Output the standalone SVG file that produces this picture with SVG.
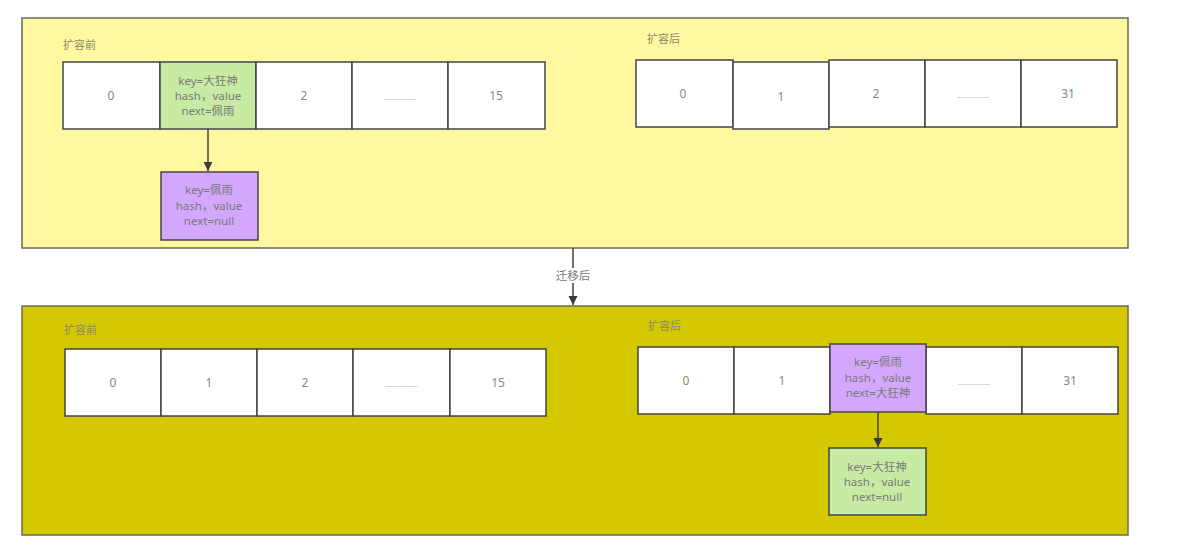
<svg xmlns="http://www.w3.org/2000/svg" width="1177" height="557" viewBox="0 0 1177 557">
<defs>
<style>
.cont{stroke:#6b6b55;stroke-width:1.5}
.cell{fill:#ffffff;stroke:#444;stroke-width:1.5}
.green{fill:#c8eba4;stroke:#444;stroke-width:1.5}
.purple{fill:#d3a8fc;stroke:#444;stroke-width:1.5}
.t{font-family:"Noto Sans","Noto Sans CJK SC",sans-serif;font-size:12px;fill:#888;text-anchor:middle}
.dots{font-family:"Noto Sans",sans-serif;font-size:6px;fill:#888;text-anchor:middle}
.tn{font-family:"Noto Sans","Noto Sans CJK SC",sans-serif;font-size:11.5px;fill:#7a7a7a;text-anchor:middle}
.lbl{font-family:"Noto Sans CJK SC",sans-serif;font-size:11px;fill:#8a8a6a}
.conn{stroke:#4a4030;stroke-width:1.5;fill:none}
</style>
<marker id="ah" viewBox="0 0 10 10" refX="10" refY="5" markerWidth="9" markerHeight="11" markerUnits="userSpaceOnUse" orient="auto"><path d="M0,0 L10,5 L0,10 z" fill="#3a3a3a"/></marker>
</defs>
<rect width="1177" height="557" fill="#ffffff"/>

<g id="top-container">
<rect class="cont" x="22" y="18" width="1106" height="230" fill="#fff8a0"/>
<text class="lbl" x="63" y="49">扩容前</text>
<text class="lbl" x="647" y="43">扩容后</text>
</g>

<g id="bottom-container">
<rect class="cont" x="22" y="306" width="1106" height="229" fill="#d4c800"/>
<text class="lbl" x="64" y="334" fill="#9a9040">扩容前</text>
<text class="lbl" x="648" y="330">扩容后</text>
</g>

<g id="top-left-array">
<rect class="cell" x="63" y="62" width="97" height="67"/><text class="t" x="111" y="100">0</text>
<rect class="green" x="160" y="62" width="96" height="67"/>
<text class="tn" x="208" y="85">key=大狂神</text><text class="tn" x="208" y="100">hash，value</text><text class="tn" x="208" y="115">next=佩雨</text>
<rect class="cell" x="256" y="62" width="96" height="67"/><text class="t" x="304" y="100">2</text>
<rect class="cell" x="352" y="62" width="96" height="67"/><text class="dots" x="400" y="100">....................</text>
<rect class="cell" x="448" y="62" width="97" height="67"/><text class="t" x="496" y="100">15</text>
</g>

<g id="top-left-node">
<rect class="purple" x="161" y="172" width="97" height="68"/>
<text class="tn" x="209" y="194">key=佩雨</text><text class="tn" x="209" y="210">hash，value</text><text class="tn" x="209" y="225">next=null</text>
</g>

<g id="top-right-array">
<rect class="cell" x="636" y="60" width="97" height="67"/><text class="t" x="683" y="98">0</text>
<rect class="cell" x="733" y="62" width="96" height="67"/><text class="t" x="781" y="101">1</text>
<rect class="cell" x="829" y="60" width="96" height="67"/><text class="t" x="876" y="98">2</text>
<rect class="cell" x="925" y="60" width="96" height="67"/><text class="dots" x="973" y="98">....................</text>
<rect class="cell" x="1021" y="60" width="96" height="67"/><text class="t" x="1068" y="98">31</text>
</g>

<g id="bottom-left-array">
<rect class="cell" x="65" y="349" width="96" height="67"/><text class="t" x="113" y="387">0</text>
<rect class="cell" x="161" y="349" width="96" height="67"/><text class="t" x="209" y="387">1</text>
<rect class="cell" x="257" y="349" width="96" height="67"/><text class="t" x="305" y="387">2</text>
<rect class="cell" x="353" y="349" width="97" height="67"/><text class="dots" x="401" y="387">....................</text>
<rect class="cell" x="450" y="349" width="96" height="67"/><text class="t" x="498" y="387">15</text>
</g>

<g id="bottom-right-array">
<rect class="cell" x="638" y="347" width="96" height="67"/><text class="t" x="686" y="385">0</text>
<rect class="cell" x="734" y="347" width="96" height="67"/><text class="t" x="782" y="385">1</text>
<rect class="cell" x="926" y="347" width="96" height="67"/><text class="dots" x="974" y="385">....................</text>
<rect class="cell" x="1022" y="347" width="96" height="67"/><text class="t" x="1070" y="385">31</text>
<rect class="purple" x="830" y="344" width="96" height="68"/>
<text class="tn" x="878" y="366">key=佩雨</text><text class="tn" x="878" y="382">hash，value</text><text class="tn" x="878" y="397">next=大狂神</text>
</g>

<g id="bottom-right-node">
<rect class="green" x="829" y="448" width="97" height="67"/>
<text class="tn" x="877" y="471">key=大狂神</text><text class="tn" x="877" y="486">hash，value</text><text class="tn" x="877" y="501">next=null</text>
</g>

<g id="connectors">
<line class="conn" x1="208" y1="129" x2="208" y2="171" marker-end="url(#ah)"/>
<line class="conn" x1="878" y1="412" x2="878" y2="447" marker-end="url(#ah)"/>
<line class="conn" x1="573" y1="248" x2="573" y2="305" marker-end="url(#ah)"/>
<rect x="553" y="268" width="40" height="15" fill="#ffffff"/>
<text class="tn" x="573" y="280" font-size="11">迁移后</text>
</g>
</svg>
